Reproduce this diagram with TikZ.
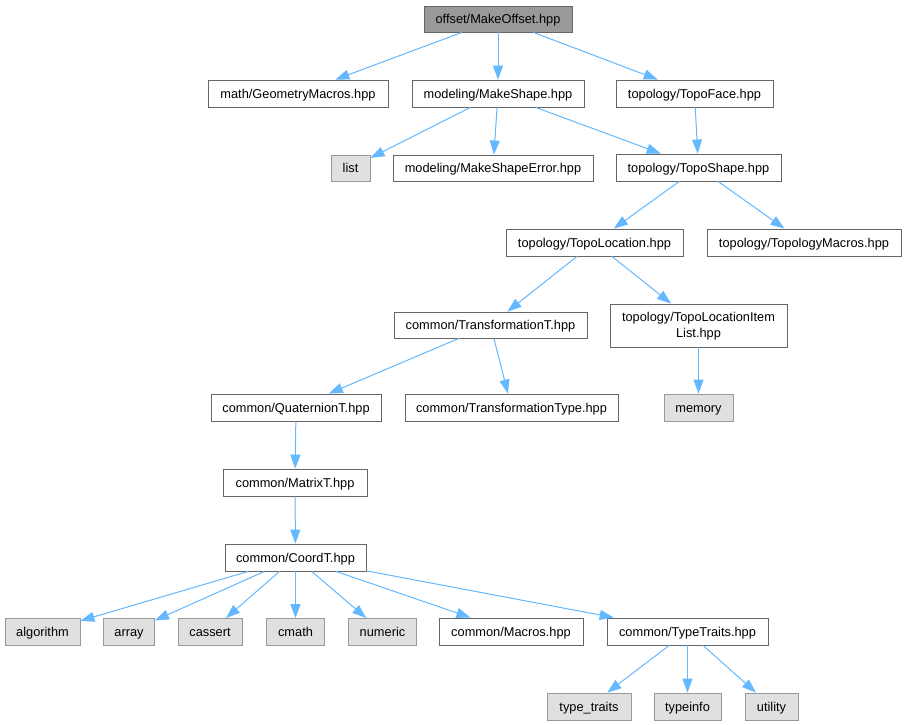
\documentclass[tikz,border=0pt]{standalone}
\usepackage{fontspec}
\setmainfont{Liberation Sans}
\usetikzlibrary{arrows.meta}
\definecolor{edgec}{HTML}{63B8FF}
\definecolor{bord}{HTML}{666666}
\definecolor{sysfill}{HTML}{E0E0E0}
\definecolor{sysbord}{HTML}{999999}
\definecolor{rootfill}{HTML}{999999}
\begin{document}
\begin{tikzpicture}[x=1pt,y=-1pt,
  box/.style={draw=bord, fill=white, line width=0.9pt, inner sep=0pt,
    font=\fontsize{12.8}{15.5}\selectfont, text height=9.1pt, text depth=0pt},
  sysbox/.style={box, draw=sysbord, fill=sysfill},
  rootbox/.style={box, fill=rootfill},
  dep/.style={draw=edgec, line width=1pt, -{Triangle[length=14pt,width=10pt]}}]
\useasboundingbox (0,0) rectangle (906,725);
\fill[white] (0,0) rectangle (906,725);

\node[rootbox, minimum width=148pt, minimum height=26pt] (root) at (498,19) {offset/MakeOffset.hpp};
\node[box, minimum width=180pt, minimum height=27pt] (geom) at (298,93.5) {math/GeometryMacros.hpp};
\node[box, minimum width=172pt, minimum height=27pt] (mkshape) at (498,93.5) {modeling/MakeShape.hpp};
\node[box, minimum width=157pt, minimum height=27pt] (topoface) at (694.5,93.5) {topology/TopoFace.hpp};
\node[sysbox, minimum width=39pt, minimum height=26pt] (list) at (350.5,168) {list};
\node[box, minimum width=200pt, minimum height=26pt] (mkerr) at (493,168) {modeling/MakeShapeError.hpp};
\node[box, minimum width=165pt, minimum height=27pt] (toposhape) at (698.5,167.5) {topology/TopoShape.hpp};
\node[box, minimum width=177pt, minimum height=27pt] (topoloc) at (594.5,242.5) {topology/TopoLocation.hpp};
\node[box, minimum width=194pt, minimum height=27pt] (topomac) at (804,242.5) {topology/TopologyMacros.hpp};
\node[box, minimum width=193pt, minimum height=26pt] (transT) at (490.5,325) {common/TransformationT.hpp};
\node[box, align=center, text height=, text depth=, minimum width=177pt, minimum height=43pt] (itemlist) at (698.5,325.5) {\raisebox{0pt}[11pt][1pt]{topology/TopoLocationItem}\\List.hpp};
\node[box, minimum width=170pt, minimum height=27pt] (quat) at (296,407.5) {common/QuaternionT.hpp};
\node[box, minimum width=213pt, minimum height=27pt] (transType) at (511.5,407.5) {common/TransformationType.hpp};
\node[sysbox, minimum width=69pt, minimum height=27pt] (memory) at (698.5,407.5) {memory};
\node[box, minimum width=144pt, minimum height=27pt] (matrix) at (295,482.5) {common/MatrixT.hpp};
\node[box, minimum width=141pt, minimum height=27pt] (coord) at (295.5,557.5) {common/CoordT.hpp};
\node[sysbox, minimum width=75pt, minimum height=27pt] (algorithm) at (42.5,632) {algorithm};
\node[sysbox, minimum width=51pt, minimum height=27pt] (array) at (129,632) {array};
\node[sysbox, minimum width=64pt, minimum height=27pt] (cassert) at (210,632) {cassert};
\node[sysbox, minimum width=58pt, minimum height=27pt] (cmath) at (295.5,632) {cmath};
\node[sysbox, minimum width=68pt, minimum height=27pt] (numeric) at (382.5,632) {numeric};
\node[box, minimum width=144pt, minimum height=27pt] (macros) at (511,631.5) {common/Macros.hpp};
\node[box, minimum width=161pt, minimum height=27pt] (typetraits) at (687.5,631.5) {common/TypeTraits.hpp};
\node[sysbox, minimum width=84pt, minimum height=27pt] (typetr) at (589,706.5) {type\_traits};
\node[sysbox, minimum width=67pt, minimum height=27pt] (typeinfo) at (687.5,706.5) {typeinfo};
\node[sysbox, minimum width=53pt, minimum height=27pt] (utility) at (771.5,706.5) {utility};

\draw[dep] (root) -- (geom);
\draw[dep] (root) -- (mkshape);
\draw[dep] (root) -- (topoface);
\draw[dep] (mkshape) -- (list);
\draw[dep] (mkshape) -- (mkerr);
\draw[dep] (mkshape) -- (toposhape);
\draw[dep] (topoface) -- (toposhape);
\draw[dep] (toposhape) -- (topoloc);
\draw[dep] (toposhape) -- (topomac);
\draw[dep] (topoloc) -- (transT);
\draw[dep] (topoloc) -- (itemlist);
\draw[dep] (transT) -- (quat);
\draw[dep] (transT) -- (transType);
\draw[dep] (itemlist) -- (memory);
\draw[dep] (quat) -- (matrix);
\draw[dep] (matrix) -- (coord);
\draw[dep] (coord) -- (algorithm);
\draw[dep] (coord) -- (array);
\draw[dep] (coord) -- (cassert);
\draw[dep] (coord) -- (cmath);
\draw[dep] (coord) -- (numeric);
\draw[dep] (coord) -- (macros);
\draw[dep] (coord) -- (typetraits);
\draw[dep] (typetraits) -- (typetr);
\draw[dep] (typetraits) -- (typeinfo);
\draw[dep] (typetraits) -- (utility);
\end{tikzpicture}
\end{document}
